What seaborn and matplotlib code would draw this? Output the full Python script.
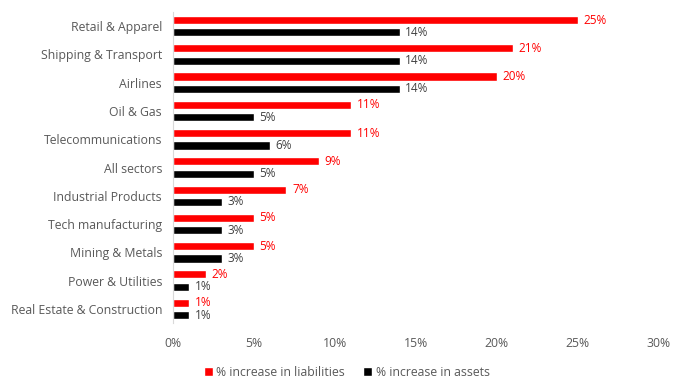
import matplotlib
matplotlib.use("Agg")
import matplotlib.pyplot as plt
import seaborn as sns
import pandas as pd

# ======= data ======= #
sectors = [
    "Retail & Apparel", "Shipping & Transport", "Airlines", "Oil & Gas",
    "Telecommunications", "All sectors", "Industrial Products",
    "Tech manufacturing", "Mining & Metals", "Power & Utilities",
    "Real Estate & Construction",
]
liabilities = [25, 21, 20, 11, 11, 9, 7, 5, 5, 2, 1]
assets = [14, 14, 14, 5, 6, 5, 3, 3, 3, 1, 1]
series = ["% increase in liabilities", "% increase in assets"]
colors = ["#ff0000", "#000000"]
x_ticks = [0, 5, 10, 15, 20, 25, 30]

df = pd.DataFrame({
    "sector": sectors * 2,
    "value": liabilities + assets,
    "series": [series[0]] * len(sectors) + [series[1]] * len(sectors),
})

# ======= plot ======= #
sns.set_style("white")
plt.rcParams["font.family"] = ["Open Sans", "DejaVu Sans"]

fig = plt.figure(figsize=(6.87, 3.9), dpi=100)
ax = fig.add_axes([0.252, 0.172, 0.707, 0.797])

sns.barplot(
    data=df, y="sector", x="value", hue="series",
    order=sectors, hue_order=series,
    palette=colors, orient="h", width=0.88, gap=0.35,
    saturation=1, ax=ax,
)

text_color = "#595959"
for cont, c in zip(ax.containers, [colors[0], "#404040"]):
    ax.bar_label(cont, labels=[f"{v:.0f}%" for v in cont.datavalues],
                 padding=4, color=c, fontsize=8.5)

ax.set_xlim(0, 30)
ax.set_xticks(x_ticks)
ax.set_xticklabels([f"{t}%" for t in x_ticks])
ax.set_ylim(len(sectors) - 0.5, -0.5)
ax.set_xlabel("")
ax.set_ylabel("")
ax.tick_params(axis="both", length=0, colors=text_color, labelsize=8.8)
ax.tick_params(axis="x", pad=10)
ax.tick_params(axis="y", pad=8)

for s in ["top", "right", "bottom"]:
    ax.spines[s].set_visible(False)
ax.spines["left"].set_color("#d9d9d9")
ax.spines["left"].set_linewidth(0.8)

handles, labels = ax.get_legend_handles_labels()
ax.legend(
    handles, labels, loc="lower center", bbox_to_anchor=(0.505, 0.0),
    bbox_transform=fig.transFigure, ncol=2, frameon=False,
    fontsize=8.8, handlelength=0.7, handleheight=0.7, handletextpad=0.3,
    columnspacing=1.5, labelcolor=text_color,
)

fig.savefig("out.png", dpi=100)
